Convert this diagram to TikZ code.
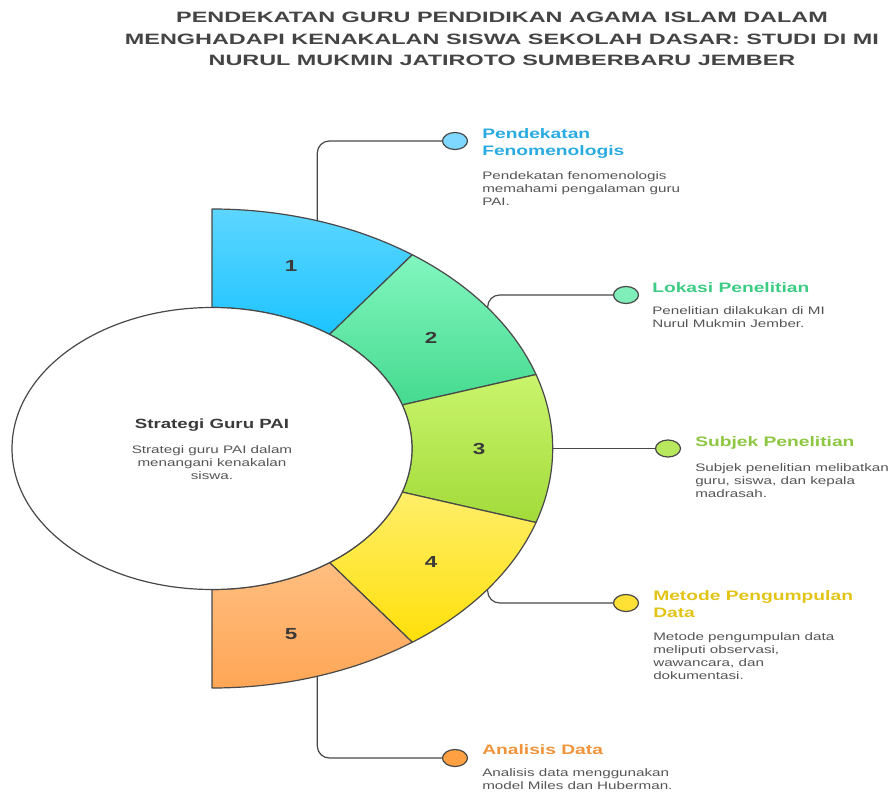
\documentclass[tikz,border=0pt]{standalone}
\usepackage{fontspec}
\setmainfont{Liberation Sans}[FakeStretch=1.4]
\newfontfamily\titlefont{Liberation Sans}[FakeStretch=1.56]
\usetikzlibrary{shapes.geometric,calc}
\definecolor{lineC}{HTML}{484848}
\definecolor{descC}{HTML}{555555}
\definecolor{numC}{HTML}{3A3A3A}
\definecolor{titleC}{HTML}{444444}
\definecolor{s1a}{HTML}{5DD6FF}\definecolor{s1b}{HTML}{1DC4FF}
\definecolor{s2a}{HTML}{82F6BF}\definecolor{s2b}{HTML}{45DA8F}
\definecolor{s3a}{HTML}{C9F46C}\definecolor{s3b}{HTML}{A3DB3A}
\definecolor{s4a}{HTML}{FFEE6A}\definecolor{s4b}{HTML}{FFE00A}
\definecolor{s5a}{HTML}{FFBE80}\definecolor{s5b}{HTML}{FFA656}
\definecolor{h1}{HTML}{29ABE2}\definecolor{h2}{HTML}{3DCC84}
\definecolor{h3}{HTML}{8DC641}\definecolor{h4}{HTML}{E2C417}
\definecolor{h5}{HTML}{F0933A}
\definecolor{d1c}{HTML}{7FD8FF}\definecolor{d2c}{HTML}{80EEB8}
\definecolor{d3c}{HTML}{B8E85E}\definecolor{d4c}{HTML}{FFE135}
\definecolor{d5c}{HTML}{FFA142}
\begin{document}
\begin{tikzpicture}[x=0.75pt,y=-0.75pt,
  seg/.style={draw=lineC, line width=0.9pt, line join=round},
  conn/.style={draw=lineC, line width=0.9pt, rounded corners=9pt},
  dot/.style={ellipse, draw=lineC, line width=0.9pt, minimum width=18.75pt, minimum height=12.75pt, inner sep=0pt},
  head/.style={anchor=north west, inner sep=0pt, align=left, font=\bfseries\fontsize{10.3}{12.75}\selectfont},
  desc/.style={anchor=north west, inner sep=0pt, align=left, text=descC, font=\fontsize{8.15}{9.75}\selectfont},
  num/.style={text=numC, font=\bfseries\fontsize{12}{14}\selectfont, inner sep=0pt},
  titlestyle/.style={align=center, text=titleC, inner sep=0pt, font=\titlefont\bfseries\fontsize{11.25}{16.1}\selectfont}]
\useasboundingbox (0,0) rectangle (890,792);
\coordinate (c) at (212,448.5);
% title
\node[titlestyle] (title) at (502,39) {PENDEKATAN GURU PENDIDIKAN AGAMA ISLAM DALAM\\MENGHADAPI KENAKALAN SISWA SEKOLAH DASAR: STUDI DI MI\\NURUL MUKMIN JATIROTO SUMBERBARU JEMBER};
% segments
\foreach \i/\a/\b in {1/-90/-54, 2/-54/-18, 3/-18/18, 4/18/54, 5/54/90}{
  \path[seg, top color=s\i a, bottom color=s\i b]
    ($(c)+(\a:340.7 and 239.5)$) arc[start angle=\a, end angle=\b, x radius=340.7, y radius=239.5]
    -- ($(c)+(\b:200 and 141)$) arc[start angle=\b, end angle=\a, x radius=200, y radius=141] -- cycle;
}
% anchor points on outer arc
\coordinate (a1) at ($(c)+(-72:340.7 and 239.5)$);
\coordinate (a2) at ($(c)+(-36:340.7 and 239.5)$);
\coordinate (a3) at ($(c)+(0:340.7 and 239.5)$);
\coordinate (a4) at ($(c)+(36:340.7 and 239.5)$);
\coordinate (a5) at ($(c)+(72:340.7 and 239.5)$);
% centre ellipse
\draw[seg, fill=white] (c) ellipse[x radius=200, y radius=141];
\node[font=\bfseries\fontsize{10}{12}\selectfont, text=numC, anchor=base, inner sep=0pt] (ch) at (212,428.3) {Strategi Guru PAI};
\node[desc, anchor=north, align=center] (cd) at (212,445) {Strategi guru PAI dalam\\menangani kenakalan\\siswa.};
% numbers
\node[num] (n1) at (291,266) {1};
\node[num] (n2) at (431,338) {2};
\node[num] (n3) at (479,449) {3};
\node[num] (n4) at (431,562) {4};
\node[num] (n5) at (291,634) {5};
% dots
\node[dot, fill=d1c] (d1) at (455,141) {};
\node[dot, fill=d2c] (d2) at (626,295) {};
\node[dot, fill=d3c] (d3) at (668,448.5) {};
\node[dot, fill=d4c] (d4) at (626,603) {};
\node[dot, fill=d5c] (d5) at (455,758) {};
% connectors
\draw[conn] (a1) |- (d1.west);
\draw[conn] (a2) |- (d2.west);
\draw[conn] (a3) -- (d3.west);
\draw[conn] (a4) |- (d4.west);
\draw[conn] (a5) |- (d5.west);
% texts
\node[head, text=h1] (t1) at (482,128) {Pendekatan\\Fenomenologis};
\node[desc] (e1) at (482,171) {Pendekatan fenomenologis\\memahami pengalaman guru\\PAI.};
\node[head, text=h2] (t2) at (652,282) {Lokasi Penelitian};
\node[desc] (e2) at (652,306) {Penelitian dilakukan di MI\\Nurul Mukmin Jember.};
\node[head, text=h3] (t3) at (695,436) {Subjek Penelitian};
\node[desc] (e3) at (695,463) {Subjek penelitian melibatkan\\guru, siswa, dan kepala\\madrasah.};
\node[head, text=h4] (t4) at (653,590) {Metode Pengumpulan\\Data};
\node[desc] (e4) at (653,632) {Metode pengumpulan data\\meliputi observasi,\\wawancara, dan\\dokumentasi.};
\node[head, text=h5] (t5) at (482,744) {Analisis Data};
\node[desc] (e5) at (482,768) {Analisis data menggunakan\\model Miles dan Huberman.};
\end{tikzpicture}
\end{document}
